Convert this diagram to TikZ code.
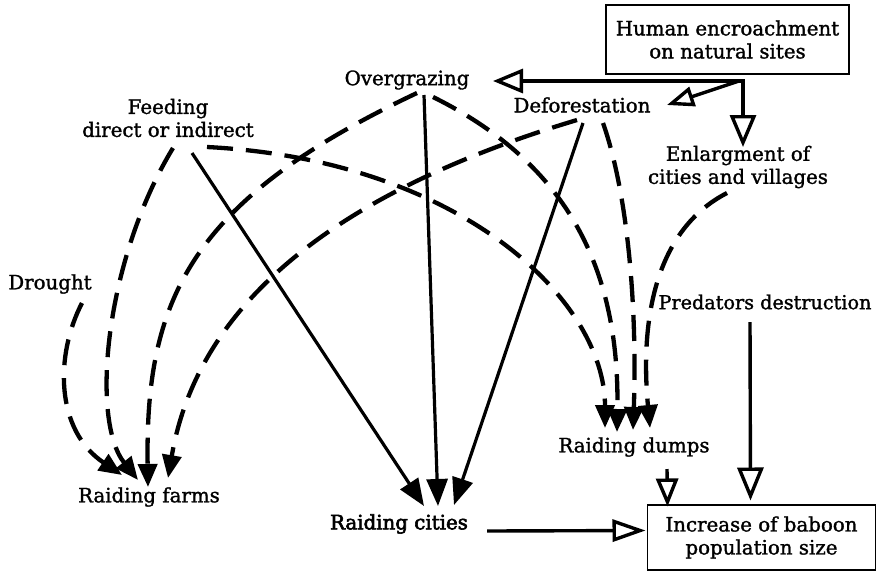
\documentclass[tikz,border=0pt]{standalone}
\usepackage{fontspec}
\setmainfont{DejaVu Serif}
\newfontfamily\lblfont[FakeBold=1.4]{DejaVu Serif}
\newfontfamily\lblboldfont[FakeBold=3]{DejaVu Serif}
\usetikzlibrary{arrows.meta}
\begin{document}
\begin{tikzpicture}[x=1pt,y=-1pt,
  lbl/.style={font=\lblfont\fontsize{19.8}{23}\selectfont, align=center, inner sep=0pt},
  boxed/.style={draw, line width=1.2pt},
  dsh/.style={line width=4.3pt, dash pattern=on 26pt off 13pt, -{Triangle[length=23pt,width=19pt]}},
  sol/.style={line width=3.2pt, -{Triangle[length=27pt,width=21pt]}},
  opn/.style={line width=3.4pt, -{Triangle[open,length=30pt,width=24pt]}},
]
\useasboundingbox (0,0) rectangle (877,571);

% nodes
\node[lbl, boxed, minimum width=243pt, minimum height=69pt] (human) at (727.5,39.5) {Human encroachment\\on natural sites};
\node[lbl] (overg) at (407,80) {Overgrazing};
\node[lbl] (defor) at (582,105) {Deforestation};
\node[lbl] (feed) at (168,118) {Feeding\\direct or indirect};
\node[lbl] (enlarg) at (738,167) {Enlargment of\\cities and villages};
\node[lbl] (drought) at (50,284) {Drought};
\node[lbl, font=\lblfont\fontsize{19.2}{23}\selectfont] (pred) at (765,302) {Predators destruction};
\node[lbl] (dumps) at (634,447) {Raiding dumps};
\node[lbl] (farms) at (149,497) {Raiding farms};
\node[lbl, font=\lblboldfont\fontsize{19.8}{23}\selectfont] (cities) at (399,524) {Raiding cities};
\node[lbl, boxed, minimum width=228pt, minimum height=65pt] (incr) at (761.5,537.5) {Increase of baboon\\population size};

\coordinate (hc) at (743,81);

% human encroachment arrows
\draw[opn] (hc) -- ([shift={(86,1)}]overg.center);
\draw[opn, -{Triangle[open,length=27pt,width=20pt]}] ([xshift=-4pt]hc) -- ([shift={(85,0)}]defor.center);
\draw[opn, -{Triangle[open,length=32pt,width=26pt]}] ([yshift=1.7pt]hc) -- ([shift={(5,-20)}]enlarg.center);

% dashed to farms
\draw[dsh] ([shift={(32,19)}]drought.center) .. controls (55,355) and (55,430) .. ([shift={(-27,-22)}]farms.center);
\draw[dsh] ([shift={(5,30)}]feed.center) .. controls (105,260) and (90,420) .. ([shift={(-11,-17)}]farms.center);
\draw[dsh] ([shift={(10,13)}]overg.center) .. controls (190,200) and (145,300) .. ([shift={(-1,-10)}]farms.center);
\draw[dsh] ([shift={(-5,15)}]defor.center) .. controls (310,200) and (195,320) .. ([shift={(19,-19)}]farms.center);

% dashed to dumps
\draw[dsh] ([shift={(39,29)}]feed.center) .. controls (460,160) and (605,300) .. ([shift={(-29,-19)}]dumps.center);
\draw[dsh] ([shift={(26,17)}]overg.center) .. controls (560,160) and (620,260) .. ([shift={(-17,-15)}]dumps.center);
\draw[dsh] ([shift={(21,18)}]defor.center) .. controls (630,200) and (637,320) .. ([shift={(-1,-17)}]dumps.center);
\draw[dsh] ([shift={(-11,26)}]enlarg.center) .. controls (655,230) and (640,320) .. ([shift={(16,-19)}]dumps.center);

% solid to cities
\draw[sol] ([shift={(24,35)}]feed.center) -- ([shift={(25,-18)}]cities.center);
\draw[sol] ([shift={(17,15)}]overg.center) -- ([shift={(39,-18)}]cities.center);
\draw[sol] ([shift={(1,18)}]defor.center) -- ([shift={(55,-19)}]cities.center);

% to increase
\draw[opn, -{Triangle[open,length=33pt,width=22pt]}] ([shift={(88,7)}]cities.center) -- ([shift={(-116,-7)}]incr.center);
\draw[opn, -{Triangle[open,length=28pt,width=22pt]}] ([shift={(33,22)}]dumps.center) -- ([shift={(-94,-31)}]incr.center);
\draw[opn, -{Triangle[open,length=33pt,width=26pt]}] ([shift={(-15,20)}]pred.center) -- ([shift={(-11,-37)}]incr.center);
\end{tikzpicture}
\end{document}
